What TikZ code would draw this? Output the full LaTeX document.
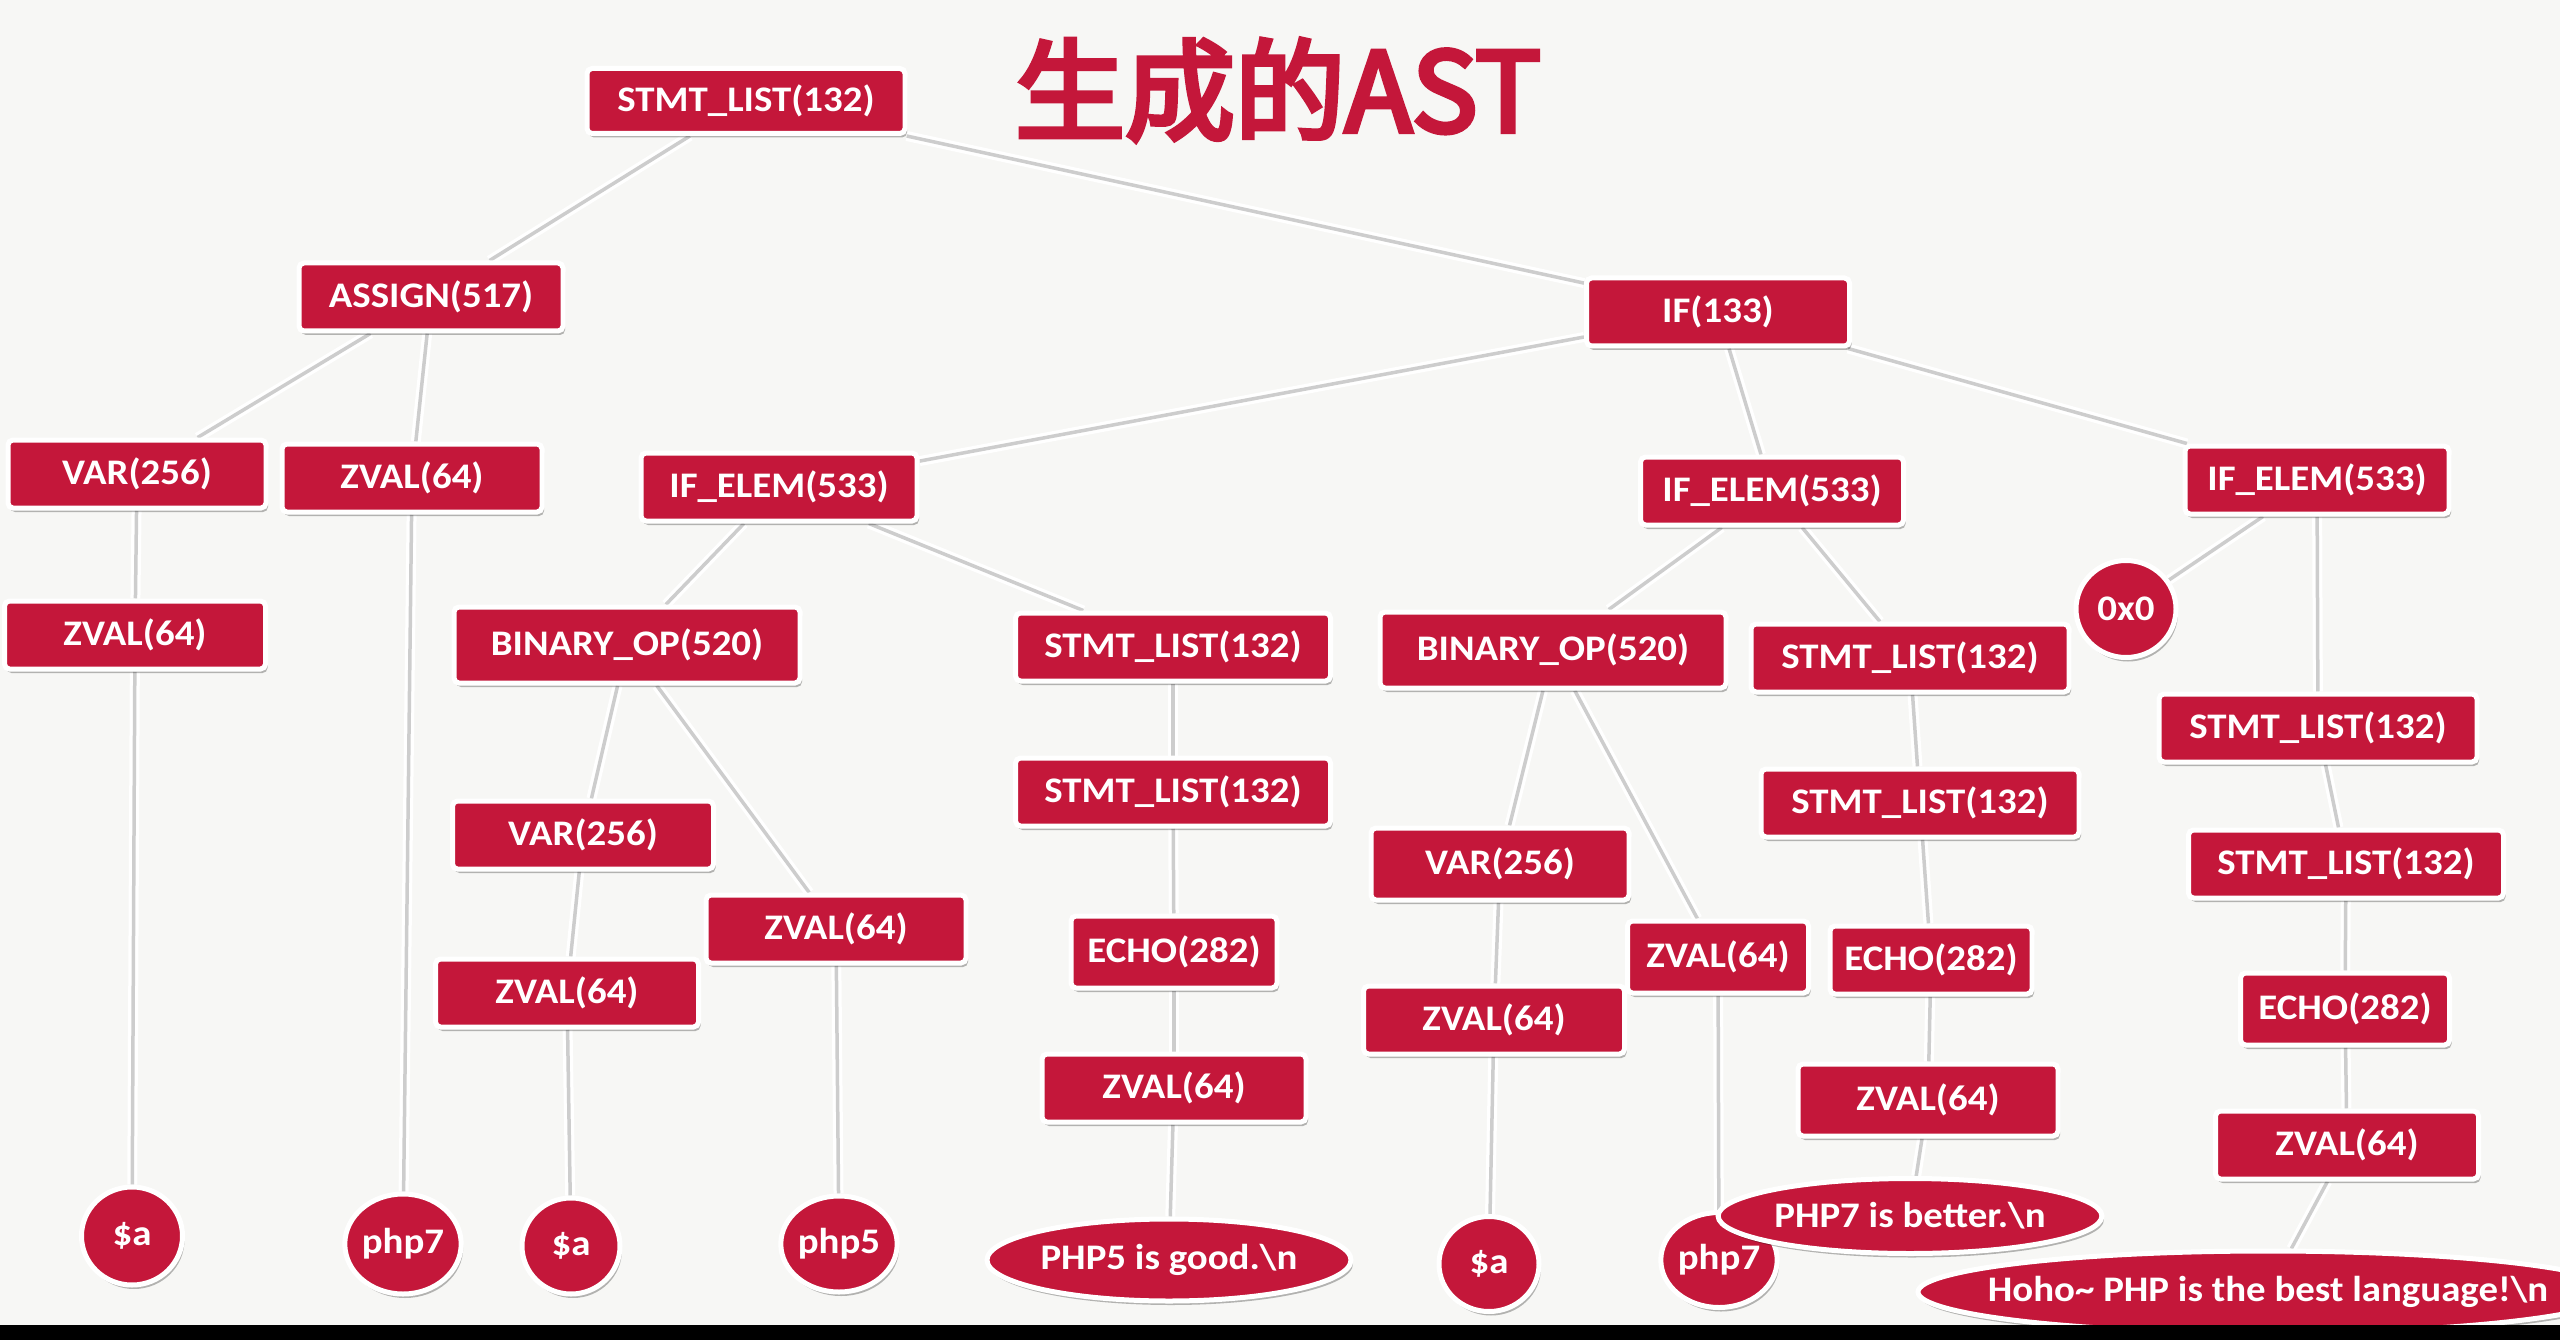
\documentclass[tikz,border=0pt]{standalone}
\usepackage{fontspec}
\setmainfont{Carlito}
\newfontfamily\nodefont{Carlito}[FakeStretch=1.08]
\newfontfamily\cjk{Noto Sans CJK SC}[FakeBold=4.5]
\usetikzlibrary{shapes.geometric,shadows,backgrounds}
\definecolor{astred}{HTML}{C4173A}
\definecolor{bgwhite}{HTML}{F7F7F5}
\definecolor{linegray}{HTML}{CDCDCD}
\tikzset{
  nodetext/.style={text=white, font=\nodefont\bfseries\fontsize{36}{40}\selectfont},
  base/.style={nodetext, fill=astred, draw=white, line width=5pt,
    drop shadow={shadow xshift=2pt, shadow yshift=-4pt, opacity=0.28, fill=black}},
  box/.style={base, rectangle, rounded corners=5pt, minimum height=68pt, inner xsep=4pt},
  leaf/.style={base, ellipse, inner sep=0pt},
  link/.style={draw=linegray, line width=3.5pt, preaction={draw=white, line width=10pt}},
}
\begin{document}
\begin{tikzpicture}[x=1pt,y=-1pt]
\useasboundingbox (0,0) rectangle (2560,1340);
\clip (0,0) rectangle (2560,1340);
\begin{scope}[on background layer]
  \fill[bgwhite] (0,0) rectangle (2560,1340);
\end{scope}

% title
\node[text=astred, font=\cjk\fontsize{110}{120}\selectfont, inner sep=0pt] (title) at (1278,90) {生成的AST};

% level 0-1
\node[box, minimum width=318pt, minimum height=65pt] (top) at (746,101) {STMT\_LIST(132)};
\node[box, minimum width=264pt] (assign) at (431,297) {ASSIGN(517)};
\node[box, minimum width=263pt] (if) at (1718,312) {IF(133)};

% assign subtree
\node[box, minimum width=258pt] (var1) at (137,474) {VAR(256)};
\node[box, minimum width=260pt] (zvalA) at (412,478) {ZVAL(64)};
\node[box, minimum width=261pt] (zval1) at (135,635) {ZVAL(64)};
\node[leaf, minimum width=101pt, minimum height=98pt] (a1) at (132,1236) {\$a};
\node[leaf, minimum width=104pt, minimum height=100pt] (php7a) at (403,1244) {php7};

% if elems
\node[box, minimum width=276pt] (ifel1) at (779,487) {IF\_ELEM(533)};
\node[box, minimum width=263pt] (ifel2) at (1772,491) {IF\_ELEM(533)};
\node[box, minimum width=264pt] (ifel3) at (2317,480) {IF\_ELEM(533)};

% if elem 1 subtree
\node[box, minimum width=346pt, minimum height=76pt] (binop1) at (627,645) {BINARY\_OP(520)};
\node[box, minimum width=315pt] (stmtA) at (1173,647) {STMT\_LIST(132)};
\node[box, minimum width=315pt] (stmtB) at (1173,792) {STMT\_LIST(132)};
\node[box, minimum width=206pt, minimum height=72pt] (echo1) at (1174,952) {ECHO(282)};
\node[box, minimum width=264pt] (zvalE1) at (1174,1088) {ZVAL(64)};
\node[leaf, minimum width=364pt, minimum height=82pt] (good) at (1169,1260) {PHP5 is good.\textbackslash n};
\node[box, minimum width=261pt] (var2) at (583,835) {VAR(256)};
\node[box, minimum width=263pt] (zval2) at (567,993) {ZVAL(64)};
\node[leaf, minimum width=98pt, minimum height=96pt] (a2) at (571,1246) {\$a};
\node[box, minimum width=260pt] (zvalB) at (836,929) {ZVAL(64)};
\node[leaf, minimum width=101pt, minimum height=96pt] (php5) at (839,1244) {php5};

% if elem 2 subtree
\node[box, minimum width=346pt, minimum height=76pt] (binop2) at (1553,650) {BINARY\_OP(520)};
\node[box, minimum width=318pt] (stmtC) at (1910,658) {STMT\_LIST(132)};
\node[box, minimum width=258pt, minimum height=72pt] (var3) at (1500,864) {VAR(256)};
\node[box, minimum width=261pt] (zval3) at (1494,1020) {ZVAL(64)};
\node[leaf, minimum width=100pt, minimum height=95pt] (a3) at (1489,1264) {\$a};
\node[box, minimum width=181pt, minimum height=72pt] (zvalC) at (1718,957) {ZVAL(64)};
\node[leaf, minimum width=100pt, minimum height=95pt] (php7b) at (1719,1260) {php7};
\node[box, minimum width=318pt] (stmtD) at (1920,803) {STMT\_LIST(132)};
\node[box, minimum width=202pt] (echo2) at (1931,960) {ECHO(282)};
\node[box, minimum width=260pt, minimum height=72pt] (zvalE2) at (1928,1100) {ZVAL(64)};
\node[leaf, minimum width=367pt, minimum height=75pt] (better) at (1910,1216) {PHP7 is better.\textbackslash n};

% if elem 3 subtree
\node[leaf, minimum width=100pt, minimum height=97pt] (zero) at (2126,609) {0x0};
\node[box, minimum width=318pt] (stmtE) at (2318,728) {STMT\_LIST(132)};
\node[box, minimum width=315pt] (stmtF) at (2346,864) {STMT\_LIST(132)};
\node[box, minimum width=209pt, minimum height=72pt] (echo3) at (2345,1009) {ECHO(282)};
\node[box, minimum width=263pt] (zvalE3) at (2347,1145) {ZVAL(64)};
\node[leaf, minimum width=700pt, minimum height=82pt] (hoho) at (2268,1292) {\makebox[460pt]{Hoho\textasciitilde{} PHP is the best language!\textbackslash n}};

% bottom black strip
\fill[black] (0,1325) rectangle (2560,1340);

\begin{scope}[on background layer]
  \path[link] (top) -- (assign);
  \path[link] (top) -- (if);
  \path[link] (assign) -- (var1);
  \path[link] (assign) -- (zvalA);
  \path[link] (var1) -- (zval1);
  \path[link] (zval1) -- (a1);
  \path[link] (zvalA) -- (php7a);
  \path[link] (if) -- (ifel1);
  \path[link] (if) -- (ifel2);
  \path[link] (if) -- (ifel3);
  \path[link] (ifel1) -- (binop1);
  \path[link] (ifel1) -- (stmtA);
  \path[link] (binop1) -- (var2);
  \path[link] (binop1) -- (zvalB);
  \path[link] (var2) -- (zval2);
  \path[link] (zval2) -- (a2);
  \path[link] (zvalB) -- (php5);
  \path[link] (stmtA) -- (stmtB);
  \path[link] (stmtB) -- (echo1);
  \path[link] (echo1) -- (zvalE1);
  \path[link] (zvalE1) -- (good);
  \path[link] (ifel2) -- (binop2);
  \path[link] (ifel2) -- (stmtC);
  \path[link] (binop2) -- (var3);
  \path[link] (binop2) -- (zvalC);
  \path[link] (var3) -- (zval3);
  \path[link] (zval3) -- (a3);
  \path[link] (zvalC) -- (php7b);
  \path[link] (stmtC) -- (stmtD);
  \path[link] (stmtD) -- (echo2);
  \path[link] (echo2) -- (zvalE2);
  \path[link] (zvalE2) -- (better);
  \path[link] (ifel3) -- (zero);
  \path[link] (ifel3) -- (stmtE);
  \path[link] (stmtE) -- (stmtF);
  \path[link] (stmtF) -- (echo3);
  \path[link] (echo3) -- (zvalE3);
  \path[link] (zvalE3) -- (hoho);
\end{scope}
\end{tikzpicture}
\end{document}
